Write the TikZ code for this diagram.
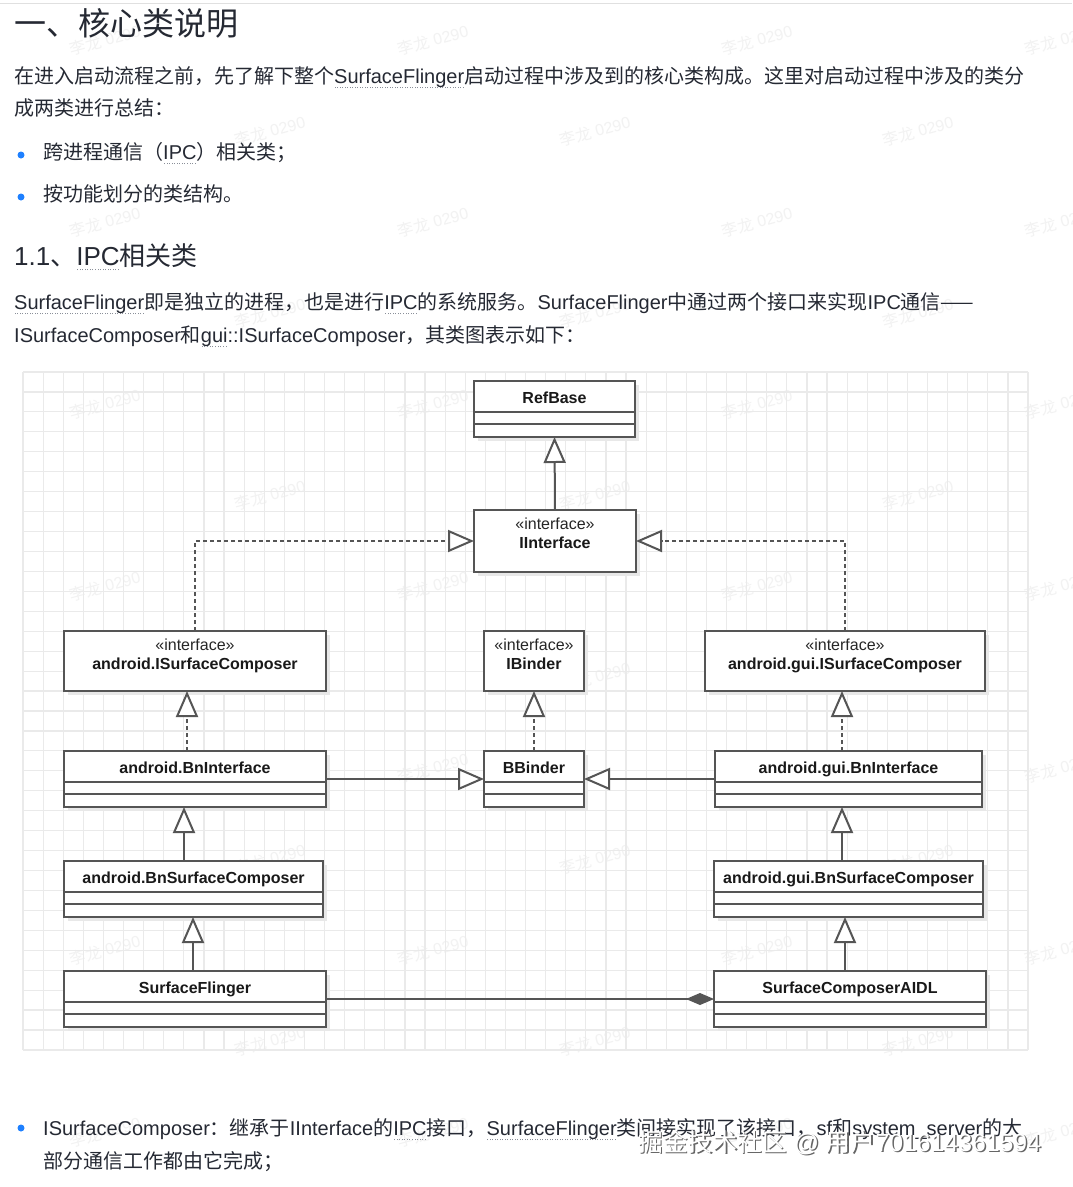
\documentclass[tikz,border=0pt]{standalone}
\usepackage{fontspec}
\setmainfont{Liberation Sans}
\newfontfamily\cjk{Noto Sans CJK SC}
\usetikzlibrary{arrows.meta,shadows}

\definecolor{txtcol}{HTML}{252933}
\definecolor{bulletblue}{HTML}{1E80FF}
\definecolor{gridcol}{HTML}{EAEAEA}
\definecolor{linecol}{HTML}{555555}
\definecolor{dotcol}{HTML}{8A8F99}
\definecolor{markcol}{HTML}{F2F2F2}

\newcommand\zh[1]{{\cjk #1}}
\newcommand\dotu[1]{\setbox0\hbox{#1}\rlap{\raisebox{-5pt}{\hbox to \wd0{\color{dotcol}\xleaders\hbox to 2.5pt{\hss\vrule width 1pt height 1pt depth 0pt\hss}\hfill}}}\box0}

\tikzset{
  txt/.style={anchor=base west, inner sep=0pt, text=txtcol, font=\fontsize{20}{24}\selectfont},
  gridline/.style={draw=gridcol, line width=1.2pt},
  umlbox/.style={draw=linecol, line width=2pt, fill=white, inner sep=0pt, outer sep=0pt,
    general shadow={fill=black!9, shadow xshift=4pt, shadow yshift=-4pt}},
  umlrule/.style={draw=linecol, line width=2pt},
  umltitle/.style={anchor=base, inner sep=0pt, text=black!90, font=\bfseries\fontsize{16}{18}\selectfont},
  stereo/.style={anchor=base, inner sep=0pt, text=black!85, font=\fontsize{16}{18}\selectfont},
  inherit/.style={draw=linecol, line width=2pt, -{Triangle[open, length=26pt, width=22pt, fill=white]}},
  realize/.style={inherit, dash pattern=on 4pt off 3pt},
  compose/.style={draw=linecol, line width=2pt, -{Diamond[length=28pt, width=12pt]}},
  wmark/.style={rotate=15, inner sep=0pt, text=markcol, font=\fontsize{16}{18}\selectfont}
}

\begin{document}
\begin{tikzpicture}[x=1pt,y=-1pt]
\useasboundingbox (0,0) rectangle (1072,1187);
\fill[white] (0,0) rectangle (1072,1187);
\draw[black!12, line width=1pt] (0,3) -- (1072,3);

% watermarks
\foreach \y in {40,222,404,586,768,950,1132}
  \foreach \x in {105,433,757,1060}
    \node[wmark] at (\x,\y) {\zh{李龙} 0290};
\foreach \y in {131,313,495,677,859,1041}
  \foreach \x in {270,595,918}
    \node[wmark] at (\x,\y) {\zh{李龙} 0290};

% text above the diagram
\node[txt, font=\fontsize{32}{36}\selectfont] (title) at (14,35.5) {\zh{一、核心类说明}};
\node[txt] (intro1) at (14,83) {\zh{在进入启动流程之前，先了解下整个}\dotu{SurfaceFlinger}\zh{启动过程中涉及到的核心类构成。这里对启动过程中涉及的类分}};
\node[txt] (intro2) at (14,115.5) {\zh{成两类进行总结：}};
\fill[bulletblue] (21,155) circle (3.5pt);
\node[txt] (item1) at (43,159) {\zh{跨进程通信（}\dotu{IPC}\zh{）相关类；}};
\fill[bulletblue] (21,197) circle (3.5pt);
\node[txt] (item2) at (43,201.5) {\zh{按功能划分的类结构。}};
\node[txt, font=\fontsize{26}{30}\selectfont] (sub) at (14,265) {1.1\zh{、}\dotu{IPC}\zh{相关类}};
\node[txt] (para1) at (14,309) {\dotu{SurfaceFlinger}\zh{即是独立的进程，也是进行}\dotu{IPC}\zh{的系统服务。}SurfaceFlinger\zh{中通过两个接口来实现}IPC\zh{通信——}};
\node[txt] (para2) at (14,342) {ISurfaceComposer\zh{和}\dotu{gui}::ISurfaceComposer\zh{，其类图表示如下：}};

% grid behind the class diagram
\foreach \i in {0,...,50}
  \draw[gridline] ({23+\i*20.1},372) -- ({23+\i*20.1},1050);
\foreach \j in {0,...,34}
  \draw[gridline] (23,{372+\j*19.94}) -- (1028,{372+\j*19.94});

% classes
\foreach \nm/\l/\t/\r/\b/\txt in {refbase/474/381/635/437/RefBase,
    abni/64/751/326/807/android.BnInterface, bbinder/484/751/584/807/BBinder,
    agbni/715/751/982/807/android.gui.BnInterface,
    absc/64/861/323/917/android.BnSurfaceComposer,
    agbsc/714/861/983/917/android.gui.BnSurfaceComposer,
    sf/64/971/326/1027/SurfaceFlinger, aidl/714/971/986/1027/SurfaceComposerAIDL}{
  \node[umlbox, minimum width={(\r-\l)*1pt}, minimum height={(\b-\t)*1pt}] (\nm) at ({(\l+\r)/2},{(\t+\b)/2}) {};
  \node[umltitle] at ([yshift=-22pt]\nm.north) {\txt};
  \draw[umlrule] ([yshift=-31pt]\nm.north west) -- ([yshift=-31pt]\nm.north east);
  \draw[umlrule] ([yshift=-43pt]\nm.north west) -- ([yshift=-43pt]\nm.north east);
}

% interfaces
\foreach \nm/\l/\t/\r/\b/\txt in {iiface/474/510/636/572/IInterface,
    aisc/64/631/326/691/android.ISurfaceComposer, ibinder/484/631/584/691/IBinder,
    agisc/705/631/985/691/android.gui.ISurfaceComposer}{
  \node[umlbox, minimum width={(\r-\l)*1pt}, minimum height={(\b-\t)*1pt}] (\nm) at ({(\l+\r)/2},{(\t+\b)/2}) {};
  \node[stereo] at ([yshift=-19pt]\nm.north) {«interface»};
  \node[umltitle] at ([yshift=-38pt]\nm.north) {\txt};
}

% relations
\draw[inherit] (iiface.north) -- (refbase.south);
\draw[realize] (aisc.north) |- (iiface.west);
\draw[realize] (agisc.north) |- (iiface.east);
\draw[realize] ([xshift=-8pt]abni.north) -- ([xshift=-8pt]aisc.south);
\draw[realize] (bbinder.north) -- (ibinder.south);
\draw[realize] ([xshift=-6.5pt]agbni.north) -- ([xshift=-3pt]agisc.south);
\draw[inherit] (abni.east) -- (bbinder.west);
\draw[inherit] (agbni.west) -- (bbinder.east);
\draw[inherit] ([xshift=-9.5pt]absc.north) -- ([xshift=-11pt]abni.south);
\draw[inherit] ([xshift=-2pt]sf.north) -- ([xshift=-0.5pt]absc.south);
\draw[inherit] ([xshift=-6.5pt]agbsc.north) -- ([xshift=-6.5pt]agbni.south);
\draw[inherit] ([xshift=-5pt]aidl.north) -- ([xshift=-3.5pt]agbsc.south);
\draw[compose] (sf.east) -- (aidl.west);

% text below the diagram
\fill[bulletblue] (21,1128) circle (3.5pt);
\node[txt] (note1) at (43,1135) {ISurfaceComposer\zh{：继承于}IInterface\zh{的}\dotu{IPC}\zh{接口，}\dotu{SurfaceFlinger}\zh{类间接实现了该接口，}sf\zh{和}system\_server\zh{的大}};
\node[txt] (note2) at (43,1168) {\zh{部分通信工作都由它完成；}};
\node[txt, text=black!60, font=\fontsize{24.8}{28}\selectfont] (stampshadow) at (639.5,1152.5) {\zh{掘金技术社区} @ \zh{用户}701614361594};
\node[txt, text=white, font=\fontsize{24.8}{28}\selectfont] (stamp) at (638,1151) {\zh{掘金技术社区} @ \zh{用户}701614361594};
\end{tikzpicture}
\end{document}
